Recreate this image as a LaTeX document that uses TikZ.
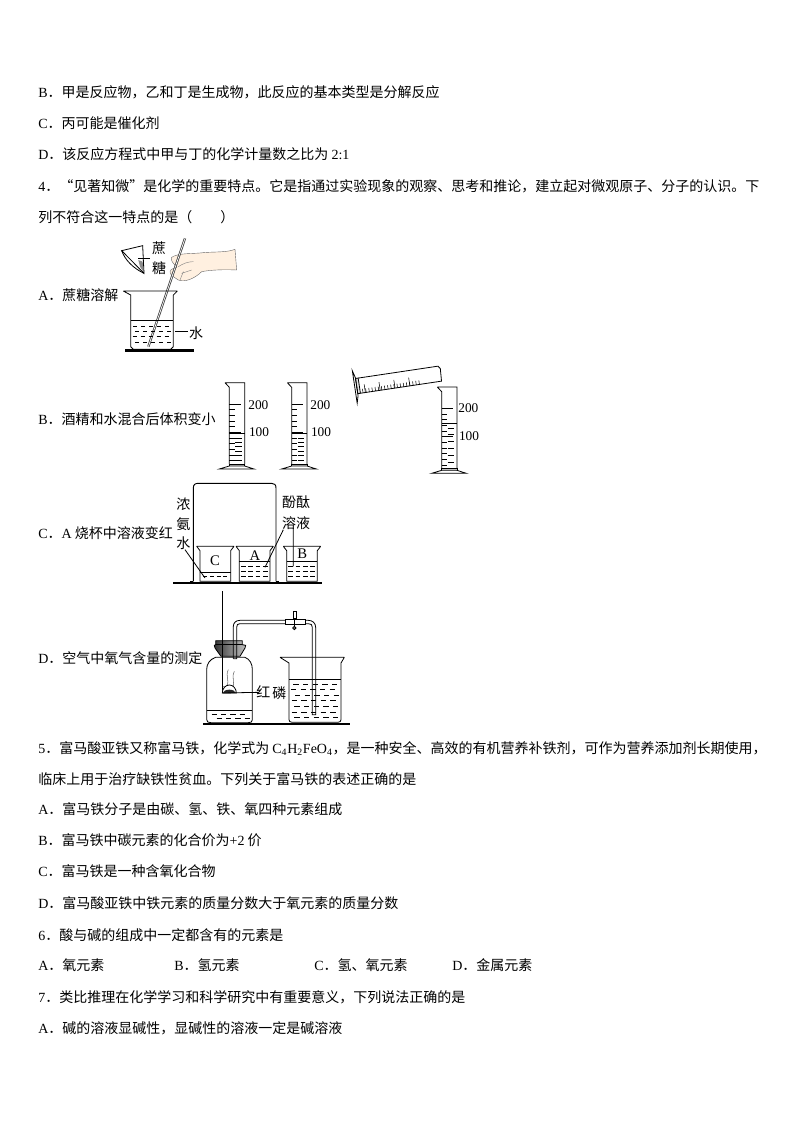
\documentclass[tikz,border=0pt]{standalone}
\usepackage{fontspec}
\setmainfont{Noto Sans CJK SC}
\newfontfamily\lat{Liberation Serif}
\usetikzlibrary{calc}
\tikzset{
 line/.style={anchor=base west,inner sep=0pt,font=\fontsize{10.5pt}{12pt}\selectfont},
 lab/.style={anchor=center,inner sep=0pt,font=\fontsize{10.5pt}{12pt}\selectfont},
 num/.style={anchor=center,inner sep=0pt,font=\fontsize{10pt}{11pt}\lat},
 ink/.style={line width=.6pt,black},
 thinink/.style={line width=.4pt,black},
 baseline bar/.style={line width=1.9pt,black},
 zoomed/.style={x=.25pt,y=-.25pt}
}
\newcommand{\zyl}[3]{%
\begin{scope}[shift={(#1,#2)}]
 \draw[ink] (45,68)--(105,68) (45,68)--(58,82)--(58,312) (104,68)--(104,312);
 \draw[ink,fill=black!15] (58,312) rectangle (104,320);
 \draw[ink,fill=white] (28,327)--(58,318)--(104,318)--(132,327)--cycle;
 \draw[ink] (58,132)--(93,132);
 \foreach \yy in {149,166,183,200,234,251,268,285,302}{\draw[thinink] (58,\yy)--(75,\yy);}
 \draw[thinink] (58,217)--(93,217);
 \draw[ink] (58,#3)--(104,#3);
 \foreach \yy in {0,1,2,3,4,5}{
  \pgfmathsetmacro\ya{#3+14+\yy*(300-#3)/6}
  \draw[line width=.7pt] (76,\ya)--(96,\ya);
 }
\end{scope}}
\begin{document}
\begin{tikzpicture}[x=.75pt,y=-.75pt]
\useasboundingbox[fill=white] (0,0) rectangle (794,1123);
\node[line] (t1) at (38,97.5) {{\lat B}．甲是反应物，乙和丁是生成物，此反应的基本类型是分解反应};
\node[line] (t2) at (38,129) {{\lat C}．丙可能是催化剂};
\node[line] (t3) at (38,160) {{\lat D}．该反应方程式中甲与丁的化学计量数之比为 {\lat 2:1}};
\node[line] (t4) at (38,191.5) {{\lat 4}．“见著知微”是化学的重要特点。它是指通过实验现象的观察、思考和推论，建立起对微观原子、分子的认识。下};
\node[line] (t5) at (38,222.5) {列不符合这一特点的是（\hspace{2em}）};
\node[line] (oa) at (38,300) {{\lat A}．蔗糖溶解};
\node[line] (ob) at (38,424) {{\lat B}．酒精和水混合后体积变小};
\node[line] (oc) at (38,538) {{\lat C}．{\lat A} 烧杯中溶液变红};
\node[line] (od) at (38,663) {{\lat D}．空气中氧气含量的测定};
\node[line] (t6) at (38,753) {{\lat 5}．富马酸亚铁又称富马铁，化学式为 {\lat C\textsubscript{4}H\textsubscript{2}FeO\textsubscript{4}}，是一种安全、高效的有机营养补铁剂，可作为营养添加剂长期使用，};
\node[line] (t7) at (38,784) {临床上用于治疗缺铁性贫血。下列关于富马铁的表述正确的是};
\node[line] (t8) at (38,814) {{\lat A}．富马铁分子是由碳、氢、铁、氧四种元素组成};
\node[line] (t9) at (38,845) {{\lat B}．富马铁中碳元素的化合价为{\lat +2} 价};
\node[line] (t10) at (38,876) {{\lat C}．富马铁是一种含氧化合物};
\node[line] (t11) at (38,908) {{\lat D}．富马酸亚铁中铁元素的质量分数大于氧元素的质量分数};
\node[line] (t12) at (38,940) {{\lat 6}．酸与碱的组成中一定都含有的元素是};
\node[line] (t13a) at (38,970) {{\lat A}．氧元素};
\node[line] (t13b) at (174,970) {{\lat B}．氢元素};
\node[line] (t13c) at (314,970) {{\lat C}．氢、氧元素};
\node[line] (t13d) at (452,970) {{\lat D}．金属元素};
\node[line] (t14) at (38,1002) {{\lat 7}．类比推理在化学学习和科学研究中有重要意义，下列说法正确的是};
\node[line] (t15) at (38,1033) {{\lat A}．碱的溶液显碱性，显碱性的溶液一定是碱溶液};
% Figure A
\begin{scope}[shift={(120,230)},zoomed]
 \draw[ink] (5,62)--(68,47)--(72,130)--cycle;
 \draw[ink] (5,62)..controls (15,90) and (40,115)..(72,130);
 \fill[black!45] (55,90)--(68,95)--(70,125)--(60,110)--cycle;
 \draw[ink] (55,85)--(90,85);
 \node[lab] (za) at (117,55) {蔗};
 \node[lab] (zb) at (117,115) {糖};
 \draw[black!60,fill=orange!12,line width=.3pt] (150,125)..controls (152,115) and (165,115)..(170,112)
   ..controls (160,100) and (150,90)..(155,82)..controls (175,68) and (220,72)..(250,68)
   ..controls (280,65) and (320,68)..(345,58)--(350,120)..controls (310,118) and (270,120)..(245,125)
   ..controls (225,145) and (195,158)..(175,150)..controls (160,140) and (150,135)..(150,125)--cycle;
 \draw[black!50,line width=.3pt] (175,110)..controls (190,100) and (205,95)..(220,95) (185,130)--(215,120) (180,150)--(190,125);
 \draw[line width=1.7pt,black!75] (195,25)--(85,350);
 \draw[line width=.5pt,white] (195,25)--(85,350);
 \draw[ink] (10,183)--(172,183) (10,183)--(32,195)--(32,350)--(40,358)--(152,358)--(160,350)--(160,195)--(172,183);
 \draw[ink] (32,272)--(160,272);
 \foreach \yy/\xa in {288/40,304/45,320/38,336/45}{
  \foreach \k in {0,1,2,3,4}{\draw[thinink] ({\xa+\k*24},\yy)--({\xa+\k*24+12},\yy);}}
 \draw[baseline bar] (15,362)--(222,362);
 \draw[ink] (165,303)--(205,303);
 \node[lab] (zc) at (228,310) {水};
\end{scope}
% Figure B
\begin{scope}[shift={(210,360)},zoomed]
 \zyl{0}{0}{220}
 \zyl{187}{0}{220}
 \zyl{637}{13}{177}
 \node[num] (n1) at (145,135) {200};
 \node[num] (n2) at (147,217) {100};
 \node[num] (n3) at (331,135) {200};
 \node[num] (n4) at (333,217) {100};
 \node[num] (n5) at (775,145) {200};
 \node[num] (n6) at (777,227) {100};
 \begin{scope}[shift={(448,78)},rotate=8.5]
  \draw[ink] (0,-24)--(242,-24)--(248,-16)--(246,22)--(0,22);
  \draw[ink,fill=black!10] (-8,-24) rectangle (0,22);
  \draw[ink] (-14,-48)--(-14,50)--(-8,28)--(-8,-26)--cycle;
  \foreach \k in {0,...,18}{\draw[thinink] ({8+\k*9.5},22)--({8+\k*9.5},10);}
  \foreach \k in {0,1,2,3}{\draw[thinink] ({15+\k*45},22)--({15+\k*45},-3);}
 \end{scope}
\end{scope}
% Figure C
\begin{scope}[shift={(165,478)},zoomed]
 \draw[line width=.7pt] (85,310)--(85,30)..controls (85,20) and (90,16)..(100,16)--(320,16)..controls (328,16) and (333,20)..(333,30)--(333,310);
 \draw[line width=.7pt] (85,310)--(76,310) (333,310)--(342,310);
 \foreach \xl/\lv in {105/283,223/250,365/250}{
  \draw[ink,fill=white] ({\xl-10},205)--({\xl+102},205) ({\xl-10},205)--(\xl,218)--(\xl,310)--({\xl+92},310)--({\xl+92},218)--({\xl+102},205);
  \draw[ink] (\xl,\lv)--({\xl+92},\lv);
 }
 \foreach \yy in {296}{\foreach \k in {0,...,3}{\draw[thinink] ({115+\k*20},\yy)--({115+\k*20+12},\yy);}}
 \foreach \xl in {223,365}{\foreach \yy in {265,280,295}{\foreach \k in {0,...,3}{\draw[thinink] ({\xl+5+\k*22},\yy)--({\xl+5+\k*22+14},\yy);}}}
 \node[lab,font=\fontsize{11pt}{12pt}\lat] (ca) at (150,247) {C};
 \node[lab,font=\fontsize{11pt}{12pt}\lat] (cb) at (270,232) {A};
 \node[lab,font=\fontsize{11pt}{12pt}\lat] (cc) at (412,226) {B};
 \draw[baseline bar] (25,315)--(472,315);
 \node[lab] (l1) at (55,80) {浓};
 \node[lab] (l2) at (55,140) {氨};
 \node[lab] (l3) at (55,195) {水};
 \node[lab] (l4) at (393,72) {酚酞};
 \node[lab] (l5) at (393,134) {溶液};
 \draw[ink] (60,215)--(120,300) (355,155)--(300,268) (385,150)--(385,265);
\end{scope}
% Figure D
\begin{scope}[shift={(195,588)},zoomed]
 \draw[ink] (62,208)--(150,208)..controls (165,214) and (172,228)..(172,245)--(172,395)..controls (172,402) and (168,404)..(160,404)--(48,404)..controls (40,404) and (35,402)..(35,395)--(35,245)..controls (35,228) and (44,214)..(62,208);
 \draw[ink] (35,367)--(172,367);
 \foreach \yy/\xa in {380/50,392/65}{\foreach \k in {0,1,2,3}{\draw[thinink] ({\xa+\k*28},\yy)--({\xa+\k*28+16},\yy);}}
 \draw[ink,left color=black!80,right color=black!25,middle color=black!50] (62,158)--(142,158)--(142,170)--(152,172)--(150,180)--(135,205)--(78,205)--(60,180)--(58,172)--(62,170)--cycle;
 \draw[ink] (62,170)--(142,170);
 \draw[ink] (82,10)--(82,315);
 \draw[ink] (115,212)--(115,115)..controls (115,105) and (122,97)..(135,97)--(340,97)..controls (352,97) and (362,105)..(362,118)--(362,380)--(352,380)--(352,118)..controls (352,110) and (348,107)..(340,107)--(135,107)..controls (128,107) and (125,110)..(125,118)--(125,212)--(115,212);
 \draw[ink,fill=white] (270,95) rectangle (330,110);
 \draw[ink,fill=white] (294,70) rectangle (304,92);
 \draw[ink] (298,92)--(298,118);
 \draw[ink,fill=black!50] (298,120) circle (5);
 \draw[thinink,black!60] (100,245)..controls (90,265) and (105,275)..(95,295) (118,250)..controls (108,270) and (122,280)..(112,305) (85,295)..controls (95,300) and (105,298)..(108,308);
 \draw[ink,fill=white] (82,315) arc[start angle=180,end angle=360,x radius=21,y radius=24]--cycle;
 \fill[black!85] (84,315) arc[start angle=180,end angle=360,x radius=19,y radius=10]--cycle;
 \draw[ink] (82,315)--(190,313);
 \node[lab] (d1) at (205,312) {红};
 \node[lab] (d2) at (253,315) {磷};
 \draw[ink] (255,208)--(448,208) (255,208)--(282,225)--(282,395)..controls (282,400) and (285,403)..(292,403)--(428,403)..controls (435,403) and (438,400)..(438,395)--(438,225)--(448,208);
 \draw[ink] (282,275)--(438,275);
 \foreach \yy/\xa in {290/295,305/288,322/300,338/290,355/298,372/290,388/298}{
  \foreach \k in {0,...,4}{\draw[thinink] ({\xa+\k*29},\yy)--({\xa+\k*29+16},\yy);}}
 \draw[baseline bar] (25,408)--(465,408);
\end{scope}
\end{tikzpicture}
\end{document}
